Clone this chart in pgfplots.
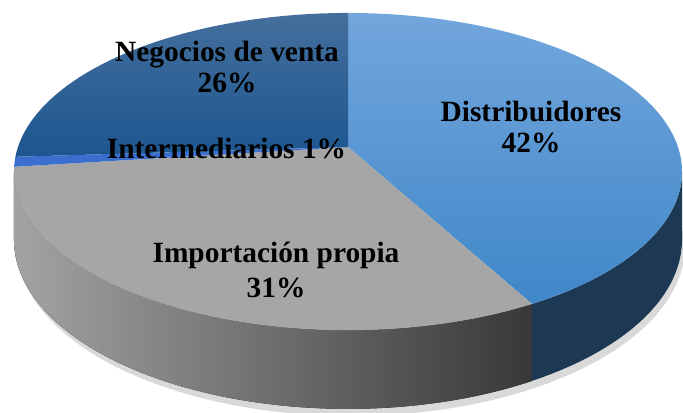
\documentclass[border=0pt]{standalone}
\usepackage{pgfplots}
\usepackage{pgfplotstable}
\pgfplotsset{compat=1.18}
\usepgfplotslibrary{fillbetween}
\usepackage{fontspec}
\setmainfont{Liberation Serif}

\definecolor{distT}{HTML}{72A6DC}
\definecolor{distB}{HTML}{4087C9}
\definecolor{distS}{HTML}{1C3852}
\definecolor{negT}{HTML}{446F9D}
\definecolor{negB}{HTML}{1D5690}
\definecolor{interC}{HTML}{3A6FD0}
\definecolor{impT}{HTML}{A6A6A6}
\definecolor{impSL}{HTML}{A3A3A3}
\definecolor{impSR}{HTML}{383838}

\pgfplotstableread{
label share
Distribuidores 42
Importacion 31
Intermediarios 1
Negocios 26
}\piedata

\begin{document}
\begin{tikzpicture}
\pgfplotstablegetelem{0}{share}\of\piedata \let\sA\pgfplotsretval
\pgfplotstablegetelem{1}{share}\of\piedata \let\sB\pgfplotsretval
\pgfplotstablegetelem{2}{share}\of\piedata \let\sC\pgfplotsretval
\pgfplotstablegetelem{3}{share}\of\piedata \let\sD\pgfplotsretval
\pgfmathsetmacro\aZero{90}
\pgfmathsetmacro\aOne{\aZero-3.6*\sA}
\pgfmathsetmacro\aTwo{\aOne-3.6*\sB}
\pgfmathsetmacro\aThree{\aTwo-3.6*\sC}
\pgfmathsetmacro\aFour{\aThree-3.6*\sD}
\begin{axis}[
  width=683bp, height=413bp, scale only axis,
  xmin=0, xmax=683, ymin=0, ymax=413,
  hide axis,
  declare function={
    px(\t)=348+330*cos(\t)/(1+0.155*sin(\t));
    py(\t)=266+154.8*sin(\t)/(1+0.155*sin(\t));
    pb(\t)=266+(154.8*sin(\t)-66.5)/(1+0.155*sin(\t));
    ps(\t)=266+(154.8*sin(\t)-72.5)/(1+0.155*sin(\t));
  },
  samples=90,
]
% soft shadow
\addplot[name path=Sb, draw=none, domain=-5:-175] ({px(x)+3},{ps(x)});
\addplot[name path=Sa, draw=none, domain=-5:-175] ({px(x)},{pb(x)});
\addplot[fill=black, fill opacity=0.15] fill between[of=Sa and Sb];

% side: Distribuidores
\addplot[name path=Dt, draw=none, domain=\aOne:-8.9] ({px(x)},{py(x)});
\addplot[name path=Db, draw=none, domain=\aOne:-8.9] ({px(x)},{pb(x)});
\addplot[fill=distS] fill between[of=Dt and Db];

% side: Importacion propia
\addplot[name path=It, draw=none, domain=-171.1:\aOne] ({px(x)},{py(x)});
\addplot[name path=Ib, draw=none, domain=-171.1:\aOne] ({px(x)},{pb(x)});
\addplot[left color=impSL, right color=impSR] fill between[of=It and Ib];

% tops
\addplot[draw=none, top color=distT, bottom color=distB, domain=\aZero:\aOne]
  ({px(x)},{py(x)}) -- (axis cs:348,266) -- cycle;
\addplot[draw=none, fill=impT, domain=\aOne:\aTwo]
  ({px(x)},{py(x)}) -- (axis cs:348,266) -- cycle;
\addplot[draw=none, fill=interC, domain=\aTwo:\aThree, samples=10]
  ({px(x)},{py(x)}) -- (axis cs:348,266) -- cycle;
\addplot[draw=none, top color=negT, bottom color=negB, domain=\aThree:\aFour]
  ({px(x)},{py(x)}) -- (axis cs:348,266) -- cycle;

% labels
\tikzset{lab/.style={anchor=base, inner sep=0pt, font=\bfseries\fontsize{29.5}{31}\selectfont}}
\node[lab] at (axis cs:531,291) {Distribuidores};
\node[lab] at (axis cs:531,260) {42\%};
\node[lab] at (axis cs:227,351) {Negocios de venta};
\node[lab] at (axis cs:227,320) {26\%};
\node[lab] at (axis cs:226.5,254) {Intermediarios 1\%};
\node[lab] at (axis cs:276,150) {Importación propia};
\node[lab] at (axis cs:276,115) {31\%};
\end{axis}
\end{tikzpicture}
\end{document}
